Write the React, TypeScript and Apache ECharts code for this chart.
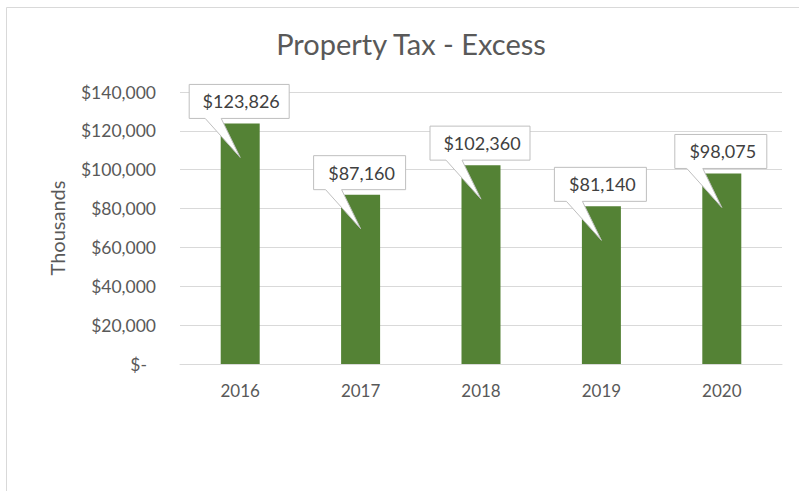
import React, { useEffect, useRef } from "react";
import * as echarts from "echarts";

const years = ["2016", "2017", "2018", "2019", "2020"];
const values = [123826, 87160, 102360, 81140, 98075];
const yTicks = [0, 20000, 40000, 60000, 80000, 100000, 120000, 140000];

const FONT = "Lato, 'Open Sans', sans-serif";

const fmt = (v: number) => (v === 0 ? "$-" : "$" + v.toLocaleString("en-US"));

export default function App() {
  const ref = useRef<HTMLDivElement>(null);
  useEffect(() => {
    if (!ref.current) return;
    const chart = echarts.init(ref.current, null, { renderer: "svg" });
    chart.setOption({
      animation: false,
      backgroundColor: "#ffffff",
      title: {
        text: "Property Tax - Excess",
        left: 406,
        textAlign: "center",
        top: 24,
        textStyle: { fontFamily: FONT, fontSize: 29, fontWeight: "normal", color: "#595959" },
      },
      graphic: [
        {
          type: "rect",
          shape: { x: 6.5, y: 7.5, width: 900, height: 600 },
          style: { fill: "none", stroke: "#d9d9d9", lineWidth: 1 },
          silent: true,
        },
      ],
      grid: { left: 180, right: 17, top: 92, bottom: 127 },
      xAxis: {
        type: "category",
        data: years,
        axisLine: { lineStyle: { color: "#d9d9d9" } },
        axisTick: { show: false },
        axisLabel: { fontFamily: FONT, fontSize: 17, color: "#595959", margin: 18 },
      },
      yAxis: {
        type: "value",
        min: 0,
        max: yTicks[yTicks.length - 1],
        interval: 20000,
        name: "Thousands",
        nameLocation: "middle",
        nameGap: 113,
        nameRotate: 90,
        nameTextStyle: { fontFamily: FONT, fontSize: 20, color: "#595959" },
        axisLine: { show: false },
        axisTick: { show: false },
        splitLine: { lineStyle: { color: "#d9d9d9" } },
        axisLabel: {
          fontFamily: FONT,
          fontSize: 17.5,
          color: "#595959",
          margin: 24,
          formatter: (v: number) => (v === 0 ? "{z|$-}" : fmt(v)),
          rich: { z: { fontFamily: FONT, fontSize: 17.5, color: "#595959", padding: [0, 9, 0, 0] } },
        },
      },
      series: [
        {
          type: "bar",
          data: values,
          barWidth: 39,
          itemStyle: { color: "#548235" },
        },
        {
          type: "custom",
          data: values.map((v, i) => [i, v]),
          clip: false,
          z: 10,
          renderItem: (params: any, api: any) => {
            const v = api.value(1);
            const p = api.coord([api.value(0), v]);
            const cx = p[0] - 1;
            const top = p[1];
            const text = fmt(v);
            const w = text.length * 8 + 36;
            const L = cx - w / 2;
            const R = cx + w / 2;
            const T = top - 39;
            const B = top - 5;
            return {
              type: "group",
              children: [
                {
                  type: "polygon",
                  shape: {
                    points: [
                      [L, T],
                      [R, T],
                      [R, B],
                      [cx - 18, B],
                      [cx + 1, top + 34],
                      [cx - 34, B],
                      [L, B],
                    ],
                  },
                  style: { fill: "#ffffff", stroke: "#bfbfbf", lineWidth: 1 },
                },
                {
                  type: "text",
                  style: {
                    text,
                    x: cx + 2,
                    y: (T + B) / 2,
                    align: "center",
                    verticalAlign: "middle",
                    fontFamily: FONT,
                    fontSize: 18,
                    fill: "#404040",
                  },
                },
              ],
            };
          },
        },
      ],
    });
    return () => chart.dispose();
  }, []);
  return (
    <div
      ref={ref}
      style={{ position: "fixed", left: 0, top: 0, width: 799, height: 491 }}
    />
  );
}
